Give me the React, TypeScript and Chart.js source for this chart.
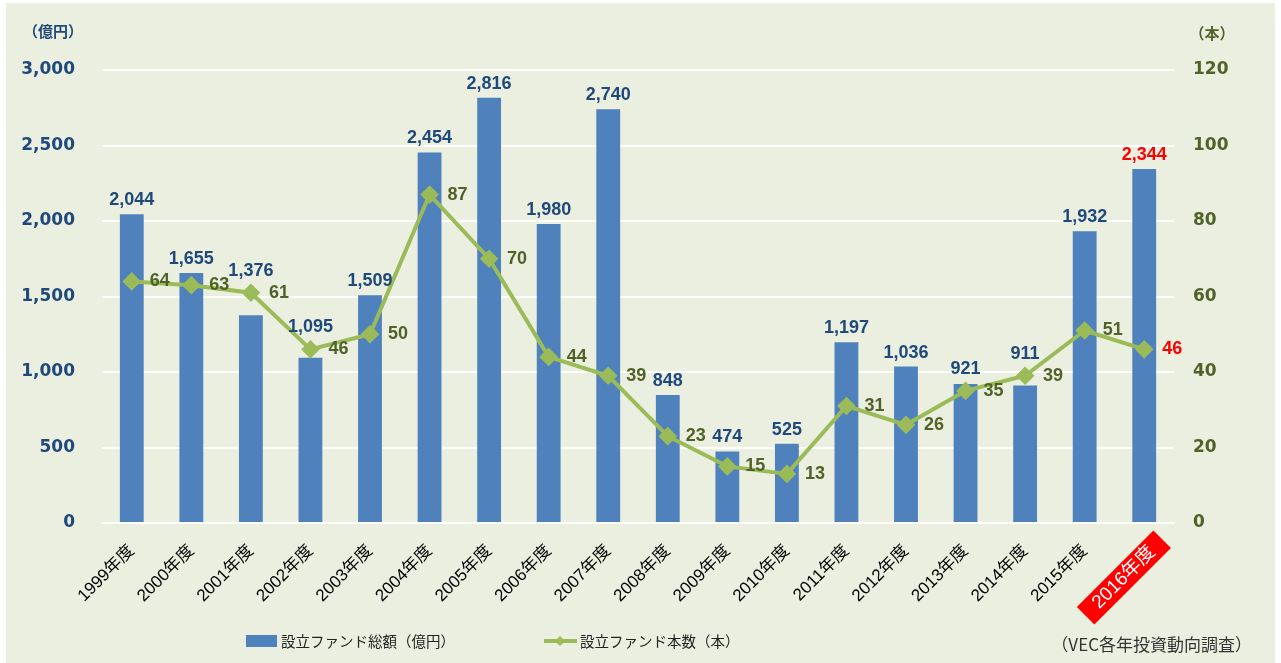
import { useEffect, useRef } from 'react';
import { Chart, registerables } from 'chart.js';

Chart.register(...registerables);

const categories = [
  '1999年度', '2000年度', '2001年度', '2002年度', '2003年度', '2004年度',
  '2005年度', '2006年度', '2007年度', '2008年度', '2009年度', '2010年度',
  '2011年度', '2012年度', '2013年度', '2014年度', '2015年度', '2016年度',
];
const fundAmount = [2044, 1655, 1376, 1095, 1509, 2454, 2816, 1980, 2740, 848, 474, 525, 1197, 1036, 921, 911, 1932, 2344];
const fundCount = [64, 63, 61, 46, 50, 87, 70, 44, 39, 23, 15, 13, 31, 26, 35, 39, 51, 46];

const amountLabel = '設立ファンド総額（億円）';
const countLabel = '設立ファンド本数（本）';
const leftUnit = '（億円）';
const rightUnit = '（本）';
const sourceNote = '（VEC各年投資動向調査）';
const highlightIndex = 17;

const BG = '#EBEFDF';
const BAR = '#4F81BD';
const LINE = '#9BBB59';
const NAVY = '#1F497D';
const OLIVE = '#4F6228';
const RED = '#FF0000';
const JP = '"Noto Sans CJK JP", sans-serif';

const fmt = (v: number) => Number(v).toLocaleString('en-US');

const bgPlugin = {
  id: 'bgPlugin',
  beforeDraw(chart: any) {
    const ctx = chart.ctx;
    ctx.save();
    ctx.fillStyle = '#ffffff';
    ctx.fillRect(0, 0, chart.width, chart.height);
    ctx.fillStyle = BG;
    ctx.fillRect(6, 3, chart.width - 12, chart.height - 3);
    ctx.restore();
  },
};

const labelPlugin = {
  id: 'labelPlugin',
  afterDatasetsDraw(chart: any) {
    const ctx = chart.ctx;
    const barMeta = chart.getDatasetMeta(1);
    const lineMeta = chart.getDatasetMeta(0);
    ctx.save();
    ctx.font = 'bold 18px "Liberation Sans", Arial, sans-serif';
    ctx.textAlign = 'center';
    ctx.textBaseline = 'middle';
    barMeta.data.forEach((bar: any, i: number) => {
      const p = lineMeta.data[i];
      let y = bar.y - 14;
      if (Math.abs(y - p.y) < 22) y = Math.min(y, p.y - 22);
      ctx.fillStyle = i === highlightIndex ? RED : NAVY;
      ctx.fillText(fmt(fundAmount[i]), bar.x, y);
    });
    lineMeta.data.forEach((p: any, i: number) => {
      ctx.fillStyle = i === highlightIndex ? RED : OLIVE;
      ctx.fillText(String(fundCount[i]), p.x + 28, p.y);
    });
    ctx.restore();
  },
};

const decorPlugin = {
  id: 'decorPlugin',
  afterDraw(chart: any) {
    const ctx = chart.ctx;
    ctx.save();
    ctx.textBaseline = 'middle';
    ctx.textAlign = 'center';
    ctx.font = `bold 15px ${JP}`;
    ctx.fillStyle = NAVY;
    ctx.fillText(leftUnit, 53, 31);
    ctx.fillStyle = OLIVE;
    ctx.fillText(rightUnit, 1212, 33);

    // legend
    ctx.textAlign = 'left';
    ctx.font = `14.5px ${JP}`;
    ctx.fillStyle = BAR;
    ctx.fillRect(246, 635, 31, 12);
    ctx.fillStyle = '#222';
    ctx.fillText(amountLabel, 281, 641);

    ctx.strokeStyle = LINE;
    ctx.lineWidth = 4;
    ctx.beginPath();
    ctx.moveTo(544, 641);
    ctx.lineTo(577, 641);
    ctx.stroke();
    ctx.fillStyle = LINE;
    ctx.beginPath();
    ctx.moveTo(560, 636);
    ctx.lineTo(565, 641);
    ctx.lineTo(560, 646);
    ctx.lineTo(555, 641);
    ctx.closePath();
    ctx.fill();
    ctx.fillStyle = '#222';
    ctx.fillText(countLabel, 580, 641);

    ctx.textAlign = 'right';
    ctx.font = `17px ${JP}`;
    ctx.fillStyle = '#333';
    ctx.fillText(sourceNote, 1252, 645);
    ctx.restore();
  },
};

export default function App() {
  const ref = useRef<HTMLCanvasElement>(null);
  useEffect(() => {
    const chart = new Chart(ref.current as HTMLCanvasElement, {
      type: 'bar',
      data: {
        labels: categories,
        datasets: [
          {
            type: 'line',
            label: countLabel,
            data: fundCount,
            yAxisID: 'y1',
            borderColor: LINE,
            backgroundColor: LINE,
            borderWidth: 4,
            pointStyle: 'rectRot',
            pointRadius: 6.5,
            pointBackgroundColor: LINE,
            pointBorderColor: LINE,
            tension: 0,
            order: 0,
          } as any,
          {
            type: 'bar',
            label: amountLabel,
            data: fundAmount,
            yAxisID: 'y',
            backgroundColor: BAR,
            barPercentage: 0.4,
            categoryPercentage: 1,
            order: 1,
          } as any,
        ],
      },
      options: {
        responsive: false,
        animation: false,
        devicePixelRatio: 1,
        layout: { padding: { top: 70, left: 0, right: 0, bottom: 0 } },
        plugins: {
          legend: { display: false },
          tooltip: { enabled: false },
        },
        scales: {
          x: {
            type: 'category',
            offset: true,
            grid: { display: false, drawTicks: false },
            border: { display: true, color: '#ffffff', width: 2 },
            ticks: {
              autoSkip: false,
              maxRotation: 45,
              minRotation: 45,
              padding: 18,
              color: (c: any) => (c.index === highlightIndex ? '#ffffff' : '#000000'),
              font: (c: any) => ({
                family: '"Liberation Sans", "Noto Sans CJK JP", sans-serif',
                size: c.index === highlightIndex ? 19 : 17,
              }),
              showLabelBackdrop: (c: any) => c.index === highlightIndex,
              backdropColor: RED,
              backdropPadding: { left: 14, right: 14, top: 1, bottom: 1 },
            } as any,
            afterFit: (s: any) => { s.height = 140; },
          },
          y: {
            position: 'left',
            min: 0,
            max: 3000,
            grid: { color: '#ffffff', lineWidth: 2, drawTicks: false },
            border: { display: false },
            ticks: {
              stepSize: 500,
              padding: 27,
              color: NAVY,
              font: { family: '"DejaVu Sans", sans-serif', weight: 'bold', size: 17 },
              callback: (v: any) => fmt(v),
            },
            afterFit: (s: any) => { s.width = 102; },
          },
          y1: {
            position: 'right',
            min: 0,
            max: 120,
            grid: { display: false, drawTicks: false },
            border: { display: false },
            ticks: {
              stepSize: 20,
              padding: 19,
              color: OLIVE,
              font: { family: '"DejaVu Sans", sans-serif', weight: 'bold', size: 17 },
            },
            afterFit: (s: any) => { s.width = 107; },
          },
        },
      },
      plugins: [bgPlugin, labelPlugin, decorPlugin],
    } as any);
    return () => chart.destroy();
  }, []);
  return (
    <div style={{ position: 'absolute', left: 0, top: 0, width: 1281, height: 663 }}>
      <canvas ref={ref} width={1281} height={663} style={{ display: 'block' }} />
    </div>
  );
}
